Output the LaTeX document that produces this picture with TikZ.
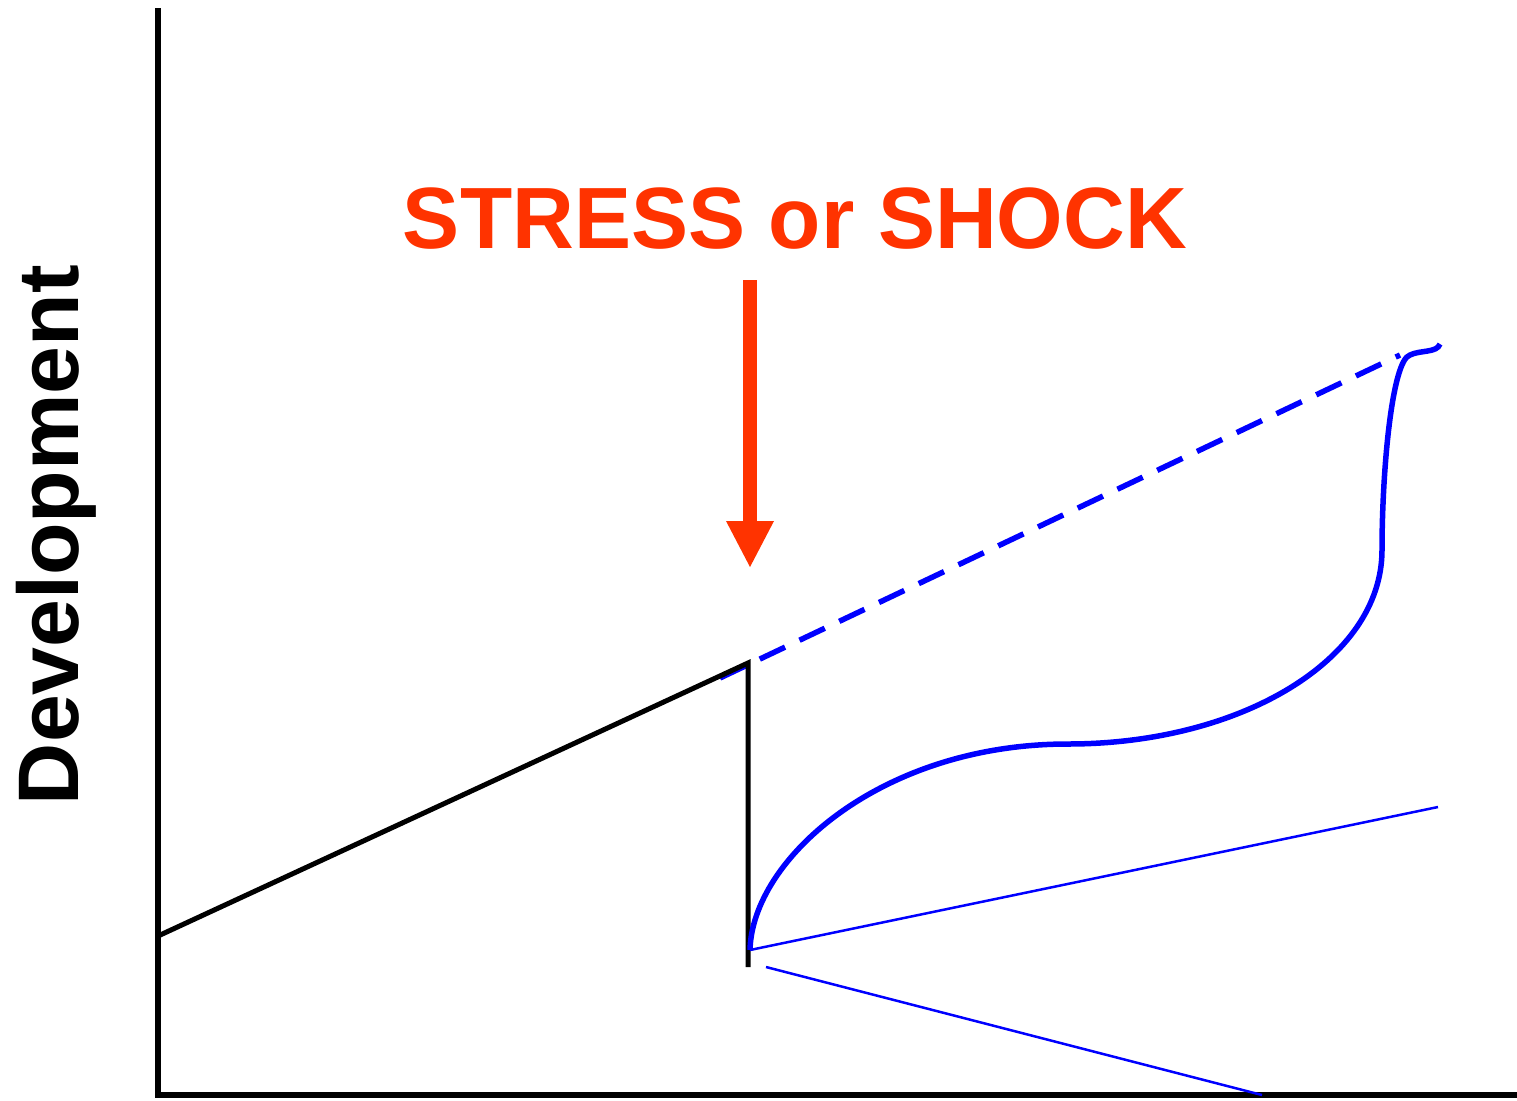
\documentclass[tikz,border=0pt]{standalone}
\usepackage{fontspec}
\setmainfont{Liberation Sans}
\definecolor{shockred}{RGB}{255,51,0}
\definecolor{pureblue}{RGB}{0,0,255}
\begin{document}
\begin{tikzpicture}[x=1pt,y=-1pt,
  axis/.style={line width=5.5pt,black},
  trend/.style={line width=5pt,black},
  pathblue/.style={line width=5.5pt,pureblue},
  thinblue/.style={line width=2.5pt,pureblue},
  dashblue/.style={line width=5.5pt,pureblue,dash pattern=on 28pt off 16pt},
  label/.style={font=\bfseries,inner sep=0pt}]
\useasboundingbox (0,0) rectangle (1517,1100);
% coordinates
\coordinate (ytop) at (158,8);
\coordinate (origin) at (158,1095);
\coordinate (xend) at (1517,1095);
\coordinate (start) at (158,936);
\coordinate (peak) at (748,663);
\coordinate (drop) at (748,967);
\coordinate (dashstart) at (720,678);
\coordinate (dashend) at (1400,355);
\coordinate (low) at (750,950);
\coordinate (mid) at (1068,744);
\coordinate (knee) at (1382,550);
\coordinate (top) at (1410,355);
\coordinate (hook) at (1440,344);
\coordinate (upend) at (1438,807);
\coordinate (downstart) at (766,967);
\coordinate (downend) at (1262,1095);
\coordinate (arrtop) at (750,280);
\coordinate (arrtip) at (750,567);
% axes
\draw[axis] (ytop) -- (origin) -- (xend);
% dashed projection
\draw[dashblue] (dashstart) -- (dashend);
% pre-shock trend and drop
\draw[trend,line join=miter] (start) -- (peak) -- (drop);
% recovery curve
\draw[pathblue] (low) .. controls (752,860) and (880,744) .. (mid)
  .. controls (1240,744) and (1382,660) .. (knee)
  .. controls (1382,470) and (1392,360) .. (top)
  .. controls (1420,350) and (1437,353) .. (hook);
% thin scenarios
\draw[thinblue] (low) -- (upend);
\draw[thinblue] (downstart) -- (downend);
% shock arrow
\fill[shockred] (743,280) rectangle (757,522);
\fill[shockred] (726,521) -- (774,521) -- (arrtip) -- cycle;
% labels
\node[label,text=shockred,anchor=base] (title) at (795,248) {\fontsize{87}{90}\selectfont\scalebox{0.983}[1]{STRESS or SHOCK}};
\node[label,anchor=base,rotate=90] (ylabel) at (78,535) {\fontsize{86}{90}\selectfont Development};
\end{tikzpicture}
\end{document}
